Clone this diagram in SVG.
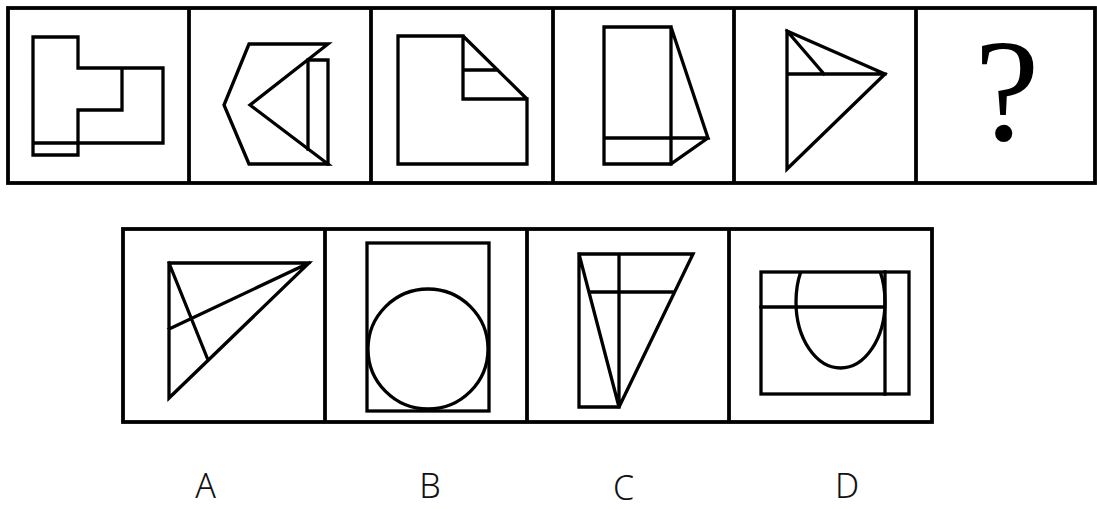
<svg xmlns="http://www.w3.org/2000/svg" width="1097" height="509" viewBox="0 0 1097 509">
<style>
.frame{fill:none;stroke:#000;stroke-width:3.8}
.s{fill:none;stroke:#000;stroke-width:3.3;stroke-linejoin:miter;stroke-linecap:square}
.lbl{font-family:"Noto Sans","DejaVu Sans",sans-serif;font-size:34px;font-weight:300;fill:#111;text-anchor:middle}
</style>
<defs>
<clipPath id="dclip"><rect x="761" y="272" width="148" height="122"/></clipPath>
</defs>
<rect width="1097" height="509" fill="#fff"/>
<g id="top-frame">
<rect class="frame" x="8" y="8" width="1087" height="175"/>
<line class="frame" x1="189" y1="8" x2="189" y2="183"/>
<line class="frame" x1="371" y1="8" x2="371" y2="183"/>
<line class="frame" x1="553" y1="8" x2="553" y2="183"/>
<line class="frame" x1="734" y1="8" x2="734" y2="183"/>
<line class="frame" x1="916" y1="8" x2="916" y2="183"/>
</g>
<g id="fig1">
<path class="s" d="M33,37 H78 V68 H163 V143 H33 M33,37 V155 H78 V110 H122 V68"/>
</g>
<g id="fig2">
<path class="s" d="M249,44 H328 L250,105 L328,164 H249 L224,105 Z"/>
<path class="s" d="M308,60 H328 V164 M308,60 V149"/>
</g>
<g id="fig3">
<path class="s" d="M398,36 H463 L527,99 V164 H398 Z M463,36 V99 H527 M463,70 H497"/>
</g>
<g id="fig4">
<path class="s" d="M604,27 H671 V164 H604 Z M604,138 H708 L671,27 M708,138 L671,164"/>
</g>
<g id="fig5">
<path class="s" d="M787,31 L885,74 L787,169 Z M787,74 H885 M787,31 L824,74"/>
</g>
<g id="fig6">
<text x="1007" y="140" font-family="Liberation Serif,serif" font-size="146" text-anchor="middle" fill="#000">?</text>
</g>
<g id="bottom-frame">
<rect class="frame" x="123" y="229" width="809" height="193"/>
<line class="frame" x1="325" y1="229" x2="325" y2="422"/>
<line class="frame" x1="527" y1="229" x2="527" y2="422"/>
<line class="frame" x1="729" y1="229" x2="729" y2="422"/>
</g>
<g id="optA">
<path class="s" d="M169,263 H309 L169,398 Z M169,263 L208,360 M309,263 L169,329"/>
</g>
<g id="optB">
<rect class="s" x="367" y="243" width="122" height="168"/>
<circle class="s" cx="428" cy="349" r="60"/>
</g>
<g id="optC">
<path class="s" d="M579,254 H693 L619,407 H579 Z M579,254 L619,407 M619,254 V407 M590,292 H674"/>
</g>
<g id="optD">
<rect class="s" x="761" y="272" width="148" height="122"/>
<path class="s" d="M761,307 H885 M885,272 V394"/>
<ellipse class="s" cx="840.5" cy="302" rx="44.5" ry="66" clip-path="url(#dclip)"/>
</g>
<g id="labels">
<text class="lbl" x="205.5" y="498">A</text>
<text class="lbl" x="430" y="498">B</text>
<text class="lbl" x="623.5" y="500">C</text>
<text class="lbl" x="847" y="498">D</text>
</g>
</svg>
